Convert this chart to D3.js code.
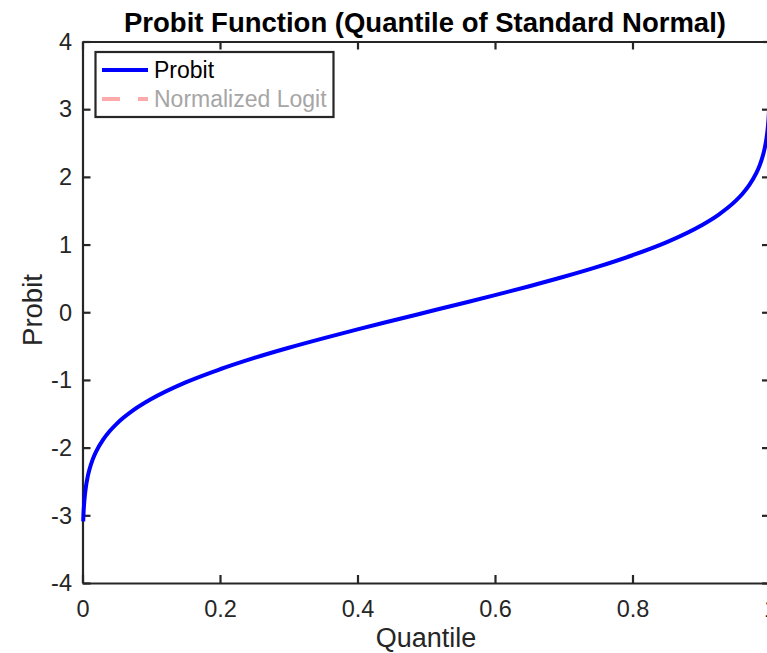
<!DOCTYPE html>
<html>
<head>
<meta charset="utf-8">
<script src="https://cdn.jsdelivr.net/npm/d3@7"></script>
<style>
  body { margin: 0; background: #fff; overflow: hidden; }
  svg { display: block; font-family: "Liberation Sans", Arial, sans-serif; }
</style>
</head>
<body>
<svg id="chart"></svg>
<script>
var width = 767, height = 653;
var margin = {top: 41.5, right: -3, bottom: 70, left: 82.5};

// quantile values
var quantiles = [0.001, 0.0015, 0.002, 0.003, 0.005, 0.0075, 0.01, 0.015, 0.02, 0.03, 0.04, 0.05, 0.075,
  0.1, 0.15, 0.2, 0.25, 0.3, 0.35, 0.4, 0.45, 0.5, 0.55, 0.6, 0.65, 0.7, 0.75, 0.8, 0.85, 0.9,
  0.925, 0.95, 0.96, 0.97, 0.98, 0.985, 0.99, 0.9925, 0.995, 0.997, 0.998, 0.9985, 0.999];
var probit = [-3.090, -2.968, -2.878, -2.748, -2.576, -2.432, -2.326, -2.170, -2.054, -1.881, -1.751, -1.645, -1.440,
  -1.282, -1.036, -0.842, -0.674, -0.524, -0.385, -0.253, -0.126, 0, 0.126, 0.253, 0.385, 0.524, 0.674, 0.842, 1.036, 1.282,
  1.440, 1.645, 1.751, 1.881, 2.054, 2.170, 2.326, 2.432, 2.576, 2.748, 2.878, 2.968, 3.090];

var xTicks = [0, 0.2, 0.4, 0.6, 0.8, 1];
var yTicks = [-4, -3, -2, -1, 0, 1, 2, 3, 4];
var legendLabels = ["Probit", "Normalized Logit"];

var w = width - margin.left - margin.right,
    h = height - margin.top - margin.bottom;

var svg = d3.select("#chart").attr("width", width).attr("height", height);

var x = d3.scaleLinear().domain([0, 1]).range([margin.left, margin.left + w]);
var y = d3.scaleLinear().domain([-4, 4]).range([margin.top + h, margin.top]);

var axisColor = "#262626";

// axes with inward ticks
var gx = svg.append("g")
    .attr("transform", "translate(0," + y(-4) + ")")
    .call(d3.axisBottom(x).tickValues(xTicks).tickSizeInner(-8).tickSizeOuter(0)
      .tickPadding(17).tickFormat(function (d) { return d === 0 || d === 1 ? d : d3.format(".1f")(d); }));
var gxTop = svg.append("g")
    .attr("transform", "translate(0," + y(4) + ")")
    .call(d3.axisTop(x).tickValues(xTicks).tickSizeInner(-8).tickSizeOuter(0).tickFormat(""));
var gy = svg.append("g")
    .attr("transform", "translate(" + x(0) + ",0)")
    .call(d3.axisLeft(y).tickValues(yTicks).tickSizeInner(-8).tickSizeOuter(0).tickPadding(10.5)
      .tickFormat(function (d) { return d < 0 ? "-" + Math.abs(d) : d; }));
var gyRight = svg.append("g")
    .attr("transform", "translate(" + x(1) + ",0)")
    .call(d3.axisRight(y).tickValues(yTicks).tickSizeInner(-8).tickSizeOuter(0).tickFormat(""));

[gx, gxTop, gy, gyRight].forEach(function (g) {
  g.select(".domain").attr("stroke", axisColor).attr("stroke-width", 2.2);
  g.selectAll(".tick line").attr("stroke", axisColor).attr("stroke-width", 2.2);
  g.selectAll(".tick text").attr("fill", axisColor).style("font-size", "23.5px")
    .style("font-family", "'Liberation Sans', Arial, sans-serif");
});
gy.selectAll(".tick text").attr("dy", "0.33em");
gx.selectAll(".tick text").attr("dy", "0.71em");

// curve
var line = d3.line()
    .x(function (d, i) { return x(quantiles[i]); })
    .y(function (d) { return y(d); })
    .curve(d3.curveMonotoneX);

svg.append("path")
    .datum(probit)
    .attr("d", line)
    .attr("fill", "none")
    .attr("stroke", "#0000ff")
    .attr("stroke-width", 4);

// title and labels
svg.append("text")
    .attr("x", 425).attr("y", 32)
    .attr("text-anchor", "middle")
    .style("font-size", "27.5px").style("font-weight", "bold")
    .attr("fill", "#000")
    .text("Probit Function (Quantile of Standard Normal)");

svg.append("text")
    .attr("x", 426).attr("y", 647)
    .attr("text-anchor", "middle")
    .style("font-size", "27px").attr("fill", axisColor)
    .text("Quantile");

svg.append("text")
    .attr("transform", "translate(42," + 310 + ") rotate(-90)")
    .attr("text-anchor", "middle")
    .style("font-size", "27.5px").attr("fill", axisColor)
    .text("Probit");

// legend
var legend = svg.append("g");
legend.append("rect")
    .attr("x", 95.5).attr("y", 52).attr("width", 238).attr("height", 65)
    .attr("fill", "#fff").attr("stroke", axisColor).attr("stroke-width", 2.2);

legend.append("line")
    .attr("x1", 102).attr("x2", 148).attr("y1", 70).attr("y2", 70)
    .attr("stroke", "#0000ff").attr("stroke-width", 4);
legend.append("text")
    .attr("x", 154).attr("y", 78)
    .style("font-size", "23px").attr("fill", "#000")
    .text(legendLabels[0]);

legend.append("line")
    .attr("x1", 102).attr("x2", 148).attr("y1", 99).attr("y2", 99)
    .attr("stroke", "#ffaaaa").attr("stroke-width", 4)
    .attr("stroke-dasharray", "18,18");
legend.append("text")
    .attr("x", 154).attr("y", 107)
    .style("font-size", "23px").attr("fill", "#a6a6a6")
    .text(legendLabels[1]);
</script>
</body>
</html>
